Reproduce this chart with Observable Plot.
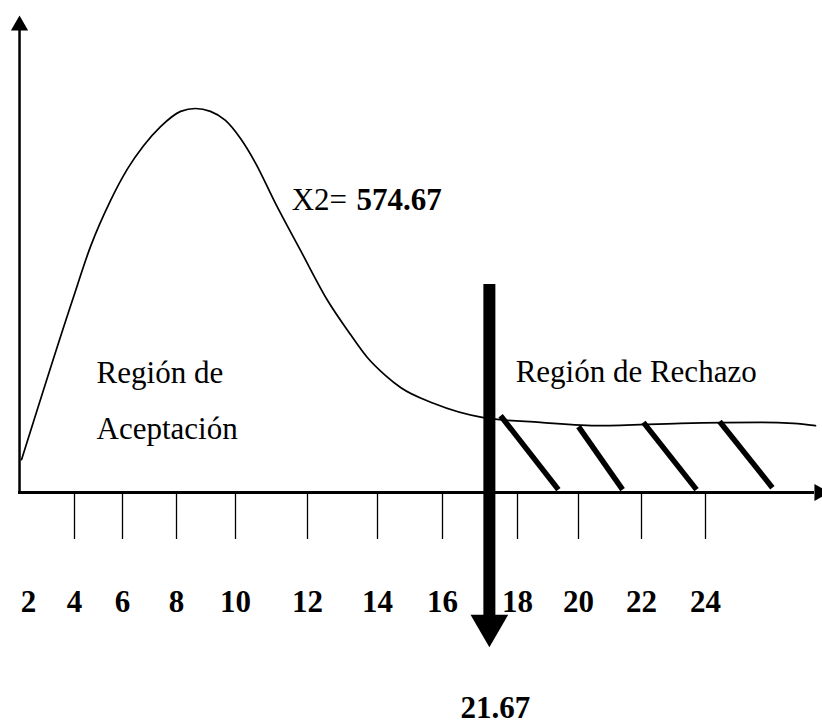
<!DOCTYPE html>
<html>
<head>
<meta charset="utf-8">
<script src="https://cdn.jsdelivr.net/npm/d3@7"></script>
<script src="https://cdn.jsdelivr.net/npm/@observablehq/plot@0.6"></script>
<style>
  html, body { margin: 0; padding: 0; background: #fff; }
  #chart svg { display: block; }
</style>
</head>
<body>
<div id="chart"></div>
<script>
// ---- data (in chart units) ----
const tickLabels = [2, 4, 6, 8, 10, 12, 14, 16, 18, 20, 22, 24];
const tickMarks = [4, 6, 8, 10, 12, 14, 16, 18, 20, 22, 24];

// chi-square style density curve (hand-drawn)
const curveX = [1.70, 3.91, 4.67, 5.50, 6.19, 6.78, 7.41, 8.14, 8.64, 9.15, 9.66, 10.14, 10.56, 11.11, 11.81, 12.57, 13.23, 13.71, 14.25, 14.71, 15.72, 17.09, 18.75, 20.70, 23.22, 25.72, 26.75, 27.44];
const curveY = [6.9, 40.3, 51.6, 61.2, 67.9, 72.7, 76.7, 79.9, 80.5, 79.9, 78.0, 74.2, 69.0, 60.6, 50.7, 40.3, 33.1, 28.3, 24.5, 22.0, 18.7, 15.7, 14.7, 14.0, 14.5, 14.7, 14.5, 14.0];

// hatching of the rejection region
const hatchX1 = [17.55, 20.00, 22.06, 24.44];
const hatchY1 = [16.1, 13.8, 14.7, 14.9];
const hatchX2 = [19.34, 21.40, 23.72, 26.09];
const hatchY2 = [0.6, 0.6, 0.6, 1.0];

// critical value marker
const criticalAt = 17.25;
const criticalTop = 43.6;
const criticalBottom = -26.0;
const criticalLabel = "21.67";

// axes extents
const yAxisAt = 1.61;
const yAxisTop = 97;
const xAxisEnd = 27.56;

// texts
const statPrefix = "X2=";
const statValue = "574.67";
const acceptLabel = "Región de\nAceptación";
const rejectLabel = "Región de Rechazo";

// ---- build ----
const curve = curveX.map((x, i) => ({x, y: curveY[i]}));
const hatch = hatchX1.map((x1, i) => ({x1, y1: hatchY1[i], x2: hatchX2[i], y2: hatchY2[i]}));

const serif = "'Liberation Serif', 'Times New Roman', Times, serif";
const FS = 31;

const chart = Plot.plot({
  width: 822,
  height: 727,
  marginTop: 15,
  marginBottom: 235,
  marginLeft: 18,
  marginRight: 8,
  style: {fontFamily: serif, background: "#fff", color: "#000", fontSize: FS + "px"},
  x: {type: "linear", domain: tickLabels, range: [28, 74, 122, 176, 235, 307, 377, 442, 517, 578, 641, 705], axis: null},
  y: {type: "linear", domain: [0, 100], range: [492, 15], axis: null},
  marks: [
    // x axis line and arrowhead
    Plot.ruleY([0], {stroke: "#000", strokeWidth: 3}),
    Plot.dot([{x: xAxisEnd, y: 0}], {x: "x", y: "y", symbol: "triangle", r: 6.4, fill: "#000", stroke: null, rotate: 90}),
    // y axis line and arrowhead
    Plot.ruleX([yAxisAt], {y1: 0, y2: yAxisTop, stroke: "#000", strokeWidth: 2.5}),
    Plot.dot([{x: yAxisAt, y: 97.9}], {x: "x", y: "y", symbol: "triangle", r: 6.4, fill: "#000", stroke: null}),
    // tick marks below axis
    Plot.ruleX(tickMarks, {x: d => d, y1: 0, y2: -9.85, stroke: "#000", strokeWidth: 1.3}),
    // tick labels
    Plot.text(tickLabels, {x: d => d, y: -25.1, text: d => String(d), fontWeight: "bold", fontSize: FS, fontFamily: serif, lineAnchor: "bottom", fill: "#000"}),
    // density curve
    Plot.line(curve, {x: "x", y: "y", curve: "monotone-x", stroke: "#000", strokeWidth: 1.7}),
    // hatch
    Plot.link(hatch, {x1: "x1", y1: "y1", x2: "x2", y2: "y2", stroke: "#000", strokeWidth: 5.5}),
    // critical value thick arrow
    Plot.ruleX([criticalAt], {y1: criticalTop, y2: criticalBottom, stroke: "#000", strokeWidth: 12}),
    Plot.dot([{x: criticalAt, y: -27.9}], {x: "x", y: "y", symbol: "triangle", r: 14, fill: "#000", stroke: null, rotate: 180}),
    // annotations
    Plot.text([statPrefix], {x: 11.56, y: 59.3, text: d => d, textAnchor: "start", lineAnchor: "bottom", fontSize: FS, fontFamily: serif, fill: "#000"}),
    Plot.text([statValue], {x: 13.40, y: 59.3, text: d => d, textAnchor: "start", lineAnchor: "bottom", fontSize: FS, fontWeight: "bold", fontFamily: serif, fill: "#000"}),
    Plot.text([acceptLabel], {x: 4.92, y: 11.3, text: d => d, textAnchor: "start", lineAnchor: "bottom", lineHeight: 1.8, fontSize: FS, fontFamily: serif, fill: "#000"}),
    Plot.text([rejectLabel], {x: 17.95, y: 23.1, text: d => d, textAnchor: "start", lineAnchor: "bottom", fontSize: FS, fontFamily: serif, fill: "#000"}),
    Plot.text([criticalLabel], {x: 17.41, y: -47.3, text: d => d, textAnchor: "middle", lineAnchor: "bottom", fontSize: FS, fontWeight: "bold", fontFamily: serif, fill: "#000"})
  ]
});
document.getElementById("chart").appendChild(chart);
</script>
</body>
</html>
